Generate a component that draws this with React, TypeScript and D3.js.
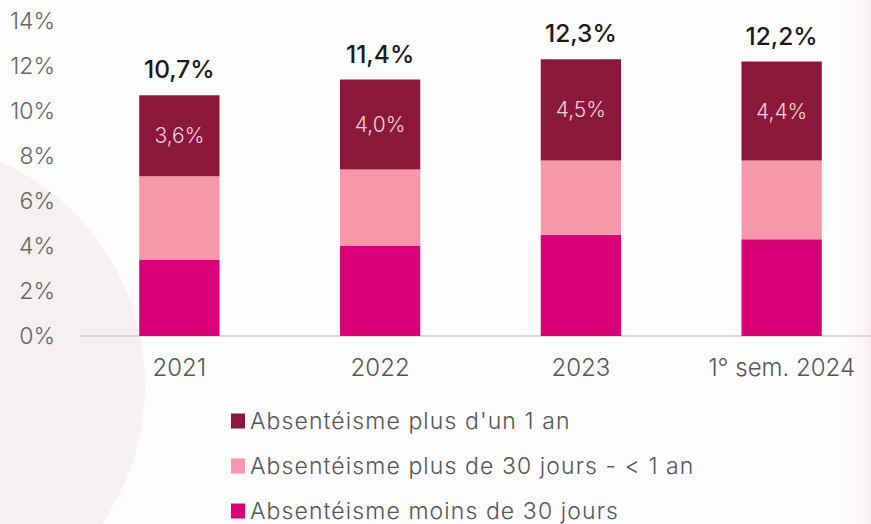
import React from "react";
import * as d3 from "d3";

const categories = ["2021", "2022", "2023", "1° sem. 2024"];
const moins30 = [3.4, 4.0, 4.5, 4.3];
const plus30 = [3.7, 3.4, 3.3, 3.5];
const plus1an = [3.6, 4.0, 4.5, 4.4];
const totals = ["10,7%", "11,4%", "12,3%", "12,2%"];
const darkLabels = ["3,6%", "4,0%", "4,5%", "4,4%"];
const yTicks = [0, 2, 4, 6, 8, 10, 12, 14];
const seriesNames = [
  "Absentéisme plus d'un 1 an",
  "Absentéisme plus de 30 jours - < 1 an",
  "Absentéisme moins de 30 jours",
];
const colors = ["#8B173B", "#F797AA", "#DA0077"];

const W = 871;
const H = 524;
const FONT = "Inter, 'Noto Sans', sans-serif";

export default function App() {
  const x = d3.scaleBand<string>().domain(categories).range([79, 882]).paddingInner(0.6).paddingOuter(0.3);
  const y = d3.scaleLinear().domain([0, 14]).range([336, 21]);

  const rows = categories.map((c, i) => ({
    cat: c,
    a: moins30[i],
    b: plus30[i],
    c2: plus1an[i],
  }));
  const stack = d3.stack<any>().keys(["a", "b", "c2"])(rows);
  const stackColors = [colors[2], colors[1], colors[0]];

  return (
    <div style={{ position: "fixed", left: 0, top: 0, width: W, height: H, overflow: "hidden" }}>
      <svg width={W} height={H} style={{ display: "block" }}>
        <defs>
          <linearGradient id="rg" x1="0" x2="1" y1="0" y2="0">
            <stop offset="0%" stopColor="#fcfbfc" stopOpacity={0} />
            <stop offset="100%" stopColor="#f8eef1" />
          </linearGradient>
        </defs>
        <rect width={W} height={H} fill="#fcfcfd" />
        <ellipse cx={-100} cy={385} rx={245} ry={245} fill="#f6f0f1" />
        <rect x={840} y={0} width={31} height={H} fill="url(#rg)" />
        <line x1={79} x2={W} y1={y(0)} y2={y(0)} stroke="#d9d9d9" strokeWidth={2} />
        {yTicks.map((t) => (
          <text
            key={t}
            x={55}
            y={y(t)}
            dy="0.36em"
            textAnchor="end"
            fontFamily={FONT}
            fontWeight={300}
            fontSize={23}
            fill="#666"
          >
            {t}%
          </text>
        ))}
        {stack.map((layer, li) =>
          layer.map((d, i) => (
            <rect
              key={li + "-" + i}
              x={x(categories[i])}
              y={y(d[1])}
              width={x.bandwidth()}
              height={y(d[0]) - y(d[1])}
              fill={stackColors[li]}
            />
          ))
        )}
        {categories.map((c, i) => {
          const cx = (x(c) as number) + x.bandwidth() / 2;
          const top = stack[2][i][1];
          const mid = (stack[2][i][0] + stack[2][i][1]) / 2;
          return (
            <g key={c}>
              <text
                x={cx}
                y={y(top) - 17}
                textAnchor="middle"
                fontFamily={FONT}
                fontWeight={500}
                fontSize={24.5}
                fill="#1a1a1a"
              >
                {totals[i]}
              </text>
              <text
                x={cx}
                y={y(mid)}
                dy="0.36em"
                textAnchor="middle"
                fontFamily={FONT}
                fontWeight={300}
                fontSize={21}
                fill="#f5d3dc"
              >
                {darkLabels[i]}
              </text>
              <text
                x={cx}
                y={376}
                textAnchor="middle"
                fontFamily={FONT}
                fontWeight={300}
                fontSize={24}
                fill="#555"
              >
                {c}
              </text>
            </g>
          );
        })}
        {seriesNames.map((s, i) => {
          const cy = 421 + i * 45;
          return (
            <g key={s}>
              <rect x={231} y={cy - 7.5} width={14} height={15} fill={colors[i]} />
              <text
                x={250}
                y={cy}
                dy="0.36em"
                fontFamily={FONT}
                fontWeight={300}
                fontSize={23}
                letterSpacing={1.1}
                fill="#555"
              >
                {s}
              </text>
            </g>
          );
        })}
      </svg>
    </div>
  );
}
